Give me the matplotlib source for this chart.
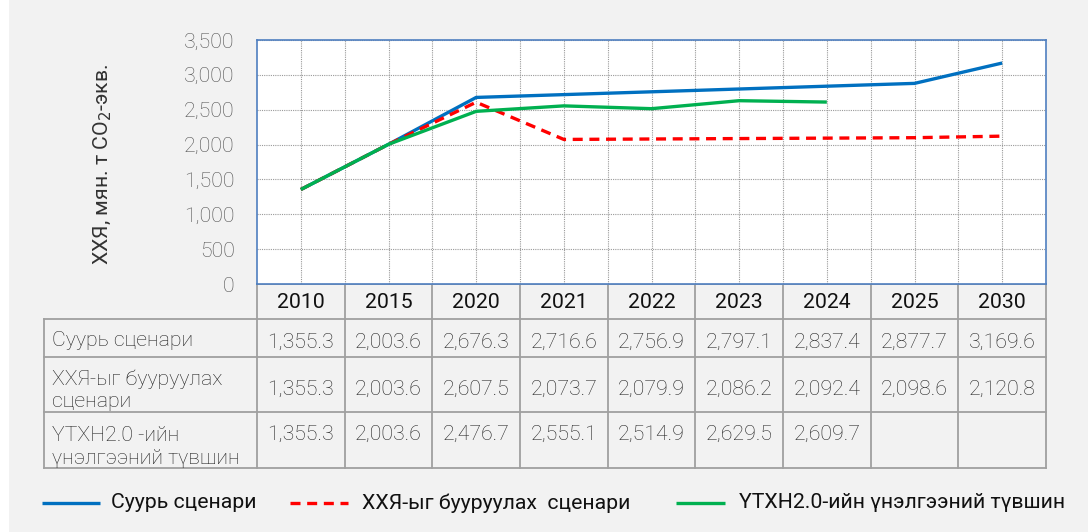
import numpy as np
import matplotlib.pyplot as plt
from matplotlib.patches import Rectangle
from matplotlib.lines import Line2D

plt.rcParams['font.family'] = ['Roboto', 'DejaVu Sans']

years = ['2010', '2015', '2020', '2021', '2022', '2023', '2024', '2025', '2030']
base = [1355.3, 2003.6, 2676.3, 2716.6, 2756.9, 2797.1, 2837.4, 2877.7, 3169.6]
mitig = [1355.3, 2003.6, 2607.5, 2073.7, 2079.9, 2086.2, 2092.4, 2098.6, 2120.8]
ndc = [1355.3, 2003.6, 2476.7, 2555.1, 2514.9, 2629.5, 2609.7, np.nan, np.nan]

series_names = ['Суурь сценари', 'ХХЯ-ыг бууруулах  сценари', 'ҮТХН2.0-ийн үнэлгээний түвшин']
row_labels = ['Суурь сценари', 'ХХЯ-ыг бууруулах\nсценари', 'ҮТХН2.0 -ийн\nүнэлгээний түвшин']
colors = ['#0070c0', '#ff0000', '#00b050']
styles = ['-', (0, (3, 2)), '-']
yticks = [0, 500, 1000, 1500, 2000, 2500, 3000, 3500]

W, H = 1088, 532
BG = '#f2f2f2'
FS = 15.3
fig = plt.figure(figsize=(W / 100, H / 100), dpi=100, facecolor=BG)
fig.patches.append(Rectangle((0, 0), 9 / W, 1, transform=fig.transFigure,
                             facecolor='white', edgecolor='none', zorder=-5))

# plot area in pixels
px_l, px_r, px_t, px_b = 257, 1046, 40, 284
ax = fig.add_axes([px_l / W, 1 - px_b / H, (px_r - px_l) / W, (px_b - px_t) / H])
ax.set_facecolor('white')

x = np.arange(len(years))
for vals, c, st, nm in zip([base, mitig, ndc], colors, styles, series_names):
    ax.plot(x, vals, color=c, lw=2.4, ls=st, solid_capstyle='butt', zorder=3,
            label=nm)

ax.set_xlim(-0.5, len(years) - 0.5)
ax.set_ylim(0, 3500)
ax.set_yticks(yticks)
ax.set_yticklabels(['{:,}'.format(v) for v in yticks], fontsize=FS,
                   color='#505050', fontweight='light')
ax.set_xticks(np.arange(0, len(years) - 0.5, 0.5))
ax.set_xticklabels([])
ax.tick_params(axis='both', length=0)
ax.tick_params(axis='y', pad=16)
ax.grid(True, color='#9a9a9a', ls=(0, (1, 1)), lw=0.8)
for s in ax.spines.values():
    s.set_color('#4f7fc0')
    s.set_linewidth(1.2)
fig.text(103 / W, 1 - 164 / H, 'ХХЯ, мян. т CO$_2$-экв.', rotation=90,
         ha='center', va='center', fontsize=FS, color='#333333')

# data table drawn in pixel coordinates
tax = fig.add_axes([0, 0, 1, 1], zorder=-1)
tax.set_xlim(0, W)
tax.set_ylim(H, 0)
tax.axis('off')
tab_l = 44
cw = (px_r - px_l) / len(years)
rows_y = [px_b, 319, 357, 412, 468]
gc = '#a0a0a0'
lw = 1.3
tax.plot([px_l, px_r], [rows_y[0], rows_y[0]], color=gc, lw=lw)
for yy in rows_y[1:]:
    tax.plot([tab_l, px_r], [yy, yy], color=gc, lw=lw)
tax.plot([tab_l, tab_l], [rows_y[1], rows_y[-1]], color=gc, lw=lw)
for i in range(len(years) + 1):
    xx = px_l + i * cw
    tax.plot([xx, xx], [rows_y[0], rows_y[-1]], color=gc, lw=lw)

for i, yr in enumerate(years):
    tax.text(px_l + (i + 0.5) * cw, 302, yr, ha='center', va='center',
             fontsize=FS, color='#111111')

value_y = [342, 389, 434]
label_y = [341, 390, 447]
for r, (vals, lab) in enumerate(zip([base, mitig, ndc], row_labels)):
    tax.text(52, label_y[r], lab, ha='left', va='center', fontsize=FS,
             color='#222222', fontweight='light', linespacing=1.22)
    for i, v in enumerate(vals):
        if np.isnan(v):
            continue
        tax.text(px_l + (i + 0.5) * cw, value_y[r], '{:,.1f}'.format(v),
                 ha='center', va='center', fontsize=FS, color='#222222',
                 fontweight='light')

# legend placed by hand
leg_y = 503
leg_x = [(42, 100, 111), (290, 348, 362), (676, 725, 739)]
for (x0, x1, xt), c, st, nm in zip(leg_x, colors, styles, series_names):
    tax.add_line(Line2D([x0, x1], [leg_y, leg_y], color=c, lw=2.4, ls=st,
                        solid_capstyle='butt'))
    tax.text(xt, leg_y, nm, ha='left', va='center', fontsize=FS,
             color='#111111')

fig.savefig('out.png', dpi=100, facecolor=BG)
